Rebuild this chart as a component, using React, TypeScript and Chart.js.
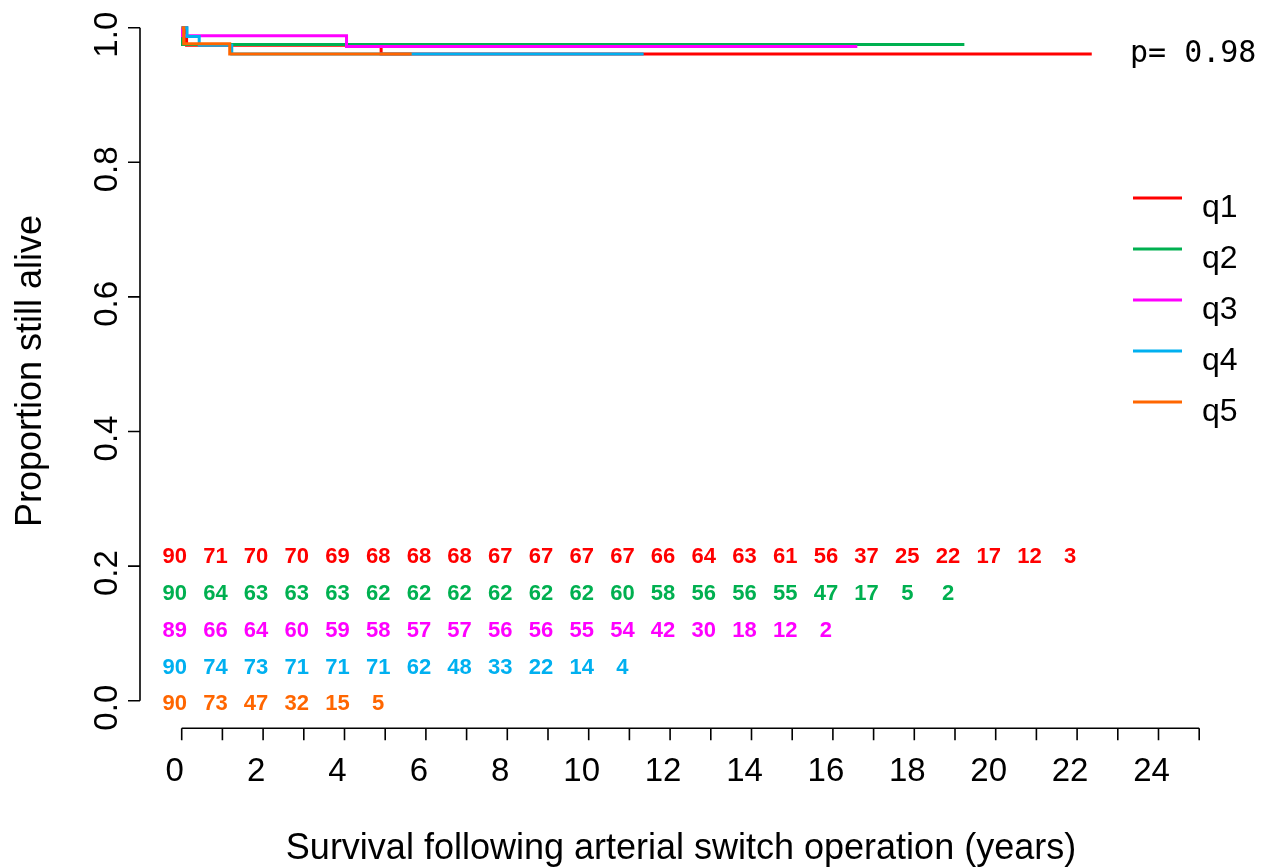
import React, { useEffect, useRef } from "react";
import { Chart, registerables } from "chart.js";

Chart.register(...registerables);

// ---------------- data ----------------
const groupNames = ["q1", "q2", "q3", "q4", "q5"];
const groupColors = ["#FF0000", "#00B050", "#FF00FF", "#00B0F0", "#FF6600"];

// Kaplan-Meier step points (time in years, survival proportion)
const q1Times = [0, 0.12, 4.9, 22.36];
const q1Surv = [1, 0.974, 0.961, 0.961];
const q2Times = [0, 0.02, 19.23];
const q2Surv = [1, 0.975, 0.975];
const q3Times = [0, 0.02, 4.05, 16.6];
const q3Surv = [1, 0.988, 0.972, 0.972];
const q4Times = [0, 0.13, 0.43, 1.23, 11.35];
const q4Surv = [1, 0.987, 0.974, 0.961, 0.961];
const q5Times = [0, 0.05, 1.18, 5.65];
const q5Surv = [1, 0.976, 0.961, 0.961];

// numbers at risk, one per year starting at year 0
const q1AtRisk = [90, 71, 70, 70, 69, 68, 68, 68, 67, 67, 67, 67, 66, 64, 63, 61, 56, 37, 25, 22, 17, 12, 3];
const q2AtRisk = [90, 64, 63, 63, 63, 62, 62, 62, 62, 62, 62, 60, 58, 56, 56, 55, 47, 17, 5, 2];
const q3AtRisk = [89, 66, 64, 60, 59, 58, 57, 57, 56, 56, 55, 54, 42, 30, 18, 12, 2];
const q4AtRisk = [90, 74, 73, 71, 71, 71, 62, 48, 33, 22, 14, 4];
const q5AtRisk = [90, 73, 47, 32, 15, 5];

const xTickValues = [0, 1, 2, 3, 4, 5, 6, 7, 8, 9, 10, 11, 12, 13, 14, 15, 16, 17, 18, 19, 20, 21, 22, 23, 24, 25];
const xTickLabels = ["0", "2", "4", "6", "8", "10", "12", "14", "16", "18", "20", "22", "24"];
const xLabelValues = [0, 2, 4, 6, 8, 10, 12, 14, 16, 18, 20, 22, 24];
const yTickValues = [0, 0.2, 0.4, 0.6, 0.8, 1.0];
const yTickLabels = ["0.0", "0.2", "0.4", "0.6", "0.8", "1.0"];

const xTitle = "Survival following arterial switch operation (years)";
const yTitle = "Proportion still alive";
const pValueText = "p= 0.98";

// ---------------- layout / style ----------------
const W = 1280;
const H = 868;
const FONT = "'Liberation Sans', Arial, Helvetica, sans-serif";
const MONO = "'DejaVu Sans Mono', 'Liberation Mono', monospace";
const TEXT_SHIFT = 7; // centred labels sit slightly toward their start in the reference
const LAYOUT = {
  plotLeft: 181.7,
  plotRight: 1199.2,
  plotTop: 27.7,
  plotBottom: 700.7,
  yAxisX: 140,
  xAxisY: 728.3,
  tickLen: 12,
  tickFont: 33,
  titleFont: 36,
  narFont: 22,
  narFirstCenter: 555.5,
  narStep: 36.75,
  legendLineX0: 1133,
  legendLineX1: 1182,
  legendTextX: 1202,
  legendFirstY: 198,
  legendStep: 51,
  legendFont: 32,
};

const allTimes = [q1Times, q2Times, q3Times, q4Times, q5Times];
const allSurv = [q1Surv, q2Surv, q3Surv, q4Surv, q5Surv];
const allAtRisk = [q1AtRisk, q2AtRisk, q3AtRisk, q4AtRisk, q5AtRisk];

const annotations = {
  id: "kmAnnotations",
  afterDraw(chart: any) {
    const ctx: CanvasRenderingContext2D = chart.ctx;
    const xs = chart.scales.x;
    const ys = chart.scales.y;
    ctx.save();
    ctx.strokeStyle = "#000";
    ctx.fillStyle = "#000";
    ctx.lineWidth = 1.6;
    ctx.lineCap = "butt";

    // y axis
    const y0 = ys.getPixelForValue(yTickValues[0]);
    const y1 = ys.getPixelForValue(yTickValues[yTickValues.length - 1]);
    ctx.beginPath();
    ctx.moveTo(LAYOUT.yAxisX, y0);
    ctx.lineTo(LAYOUT.yAxisX, y1);
    yTickValues.forEach((v) => {
      const py = ys.getPixelForValue(v);
      ctx.moveTo(LAYOUT.yAxisX, py);
      ctx.lineTo(LAYOUT.yAxisX - LAYOUT.tickLen, py);
    });
    ctx.stroke();
    ctx.font = `${LAYOUT.tickFont}px ${FONT}`;
    ctx.textAlign = "center";
    ctx.textBaseline = "alphabetic";
    yTickValues.forEach((v, i) => {
      const py = ys.getPixelForValue(v);
      ctx.save();
      ctx.translate(LAYOUT.yAxisX - 23, py + TEXT_SHIFT);
      ctx.rotate(-Math.PI / 2);
      ctx.fillText(yTickLabels[i], 0, 0);
      ctx.restore();
    });

    // x axis
    const xa = xs.getPixelForValue(xTickValues[0]);
    const xb = xs.getPixelForValue(xTickValues[xTickValues.length - 1]);
    ctx.beginPath();
    ctx.moveTo(xa, LAYOUT.xAxisY);
    ctx.lineTo(xb, LAYOUT.xAxisY);
    xTickValues.forEach((v) => {
      const px = xs.getPixelForValue(v);
      ctx.moveTo(px, LAYOUT.xAxisY);
      ctx.lineTo(px, LAYOUT.xAxisY + LAYOUT.tickLen);
    });
    ctx.stroke();
    xLabelValues.forEach((v, i) => {
      const px = xs.getPixelForValue(v);
      ctx.fillText(xTickLabels[i], px - TEXT_SHIFT, 781);
    });

    // titles
    ctx.font = `${LAYOUT.titleFont}px ${FONT}`;
    ctx.fillText(xTitle, 681, 859);
    ctx.save();
    ctx.translate(41, 371);
    ctx.rotate(-Math.PI / 2);
    ctx.fillText(yTitle, 0, 0);
    ctx.restore();

    // numbers at risk
    ctx.font = `bold ${LAYOUT.narFont}px ${FONT}`;
    allAtRisk.forEach((row, g) => {
      ctx.fillStyle = groupColors[g];
      const cy = LAYOUT.narFirstCenter + g * LAYOUT.narStep;
      row.forEach((n, yr) => {
        const px = xs.getPixelForValue(yr);
        ctx.fillText(String(n), px - TEXT_SHIFT, cy + 0.358 * LAYOUT.narFont);
      });
    });

    // legend
    ctx.lineWidth = 3;
    ctx.textAlign = "left";
    ctx.font = `${LAYOUT.legendFont}px ${FONT}`;
    groupNames.forEach((name, g) => {
      const ly = LAYOUT.legendFirstY + g * LAYOUT.legendStep;
      ctx.strokeStyle = groupColors[g];
      ctx.beginPath();
      ctx.moveTo(LAYOUT.legendLineX0, ly);
      ctx.lineTo(LAYOUT.legendLineX1, ly);
      ctx.stroke();
      ctx.fillStyle = "#000";
      ctx.fillText(name, LAYOUT.legendTextX, ly + 19);
    });

    // p value
    ctx.font = `30px ${MONO}`;
    ctx.fillStyle = "#000";
    ctx.fillText(pValueText, 1130, 62);
    ctx.restore();
  },
};

export default function App() {
  const canvasRef = useRef<HTMLCanvasElement | null>(null);

  useEffect(() => {
    document.body.style.margin = "0";
    const canvas = canvasRef.current;
    if (!canvas) return;
    const datasets = groupNames.map((name, g) => ({
      label: name,
      data: allTimes[g].map((t, i) => ({ x: t, y: allSurv[g][i] })),
      borderColor: groupColors[g],
      backgroundColor: groupColors[g],
      borderWidth: 3,
      pointRadius: 0,
      stepped: true as const,
      fill: false,
      clip: false as const,
      order: groupNames.length - g,
      borderCapStyle: "butt" as const,
      borderJoinStyle: "miter" as const,
    }));
    const chart = new Chart(canvas, {
      type: "line",
      data: { datasets },
      options: {
        responsive: false,
        animation: false,
        devicePixelRatio: 1,
        parsing: false,
        layout: {
          padding: {
            left: LAYOUT.plotLeft,
            right: W - LAYOUT.plotRight,
            top: LAYOUT.plotTop,
            bottom: H - LAYOUT.plotBottom,
          },
        },
        scales: {
          x: { type: "linear", min: 0, max: 25, display: false },
          y: { type: "linear", min: 0, max: 1, display: false },
        },
        plugins: {
          legend: { display: false },
          tooltip: { enabled: false },
          title: { display: false },
        },
      },
      plugins: [annotations],
    });
    return () => chart.destroy();
  }, []);

  return (
    <div style={{ position: "absolute", left: 0, top: 0, width: W, height: H, background: "#fff" }}>
      <canvas ref={canvasRef} width={W} height={H} style={{ display: "block" }} />
    </div>
  );
}
